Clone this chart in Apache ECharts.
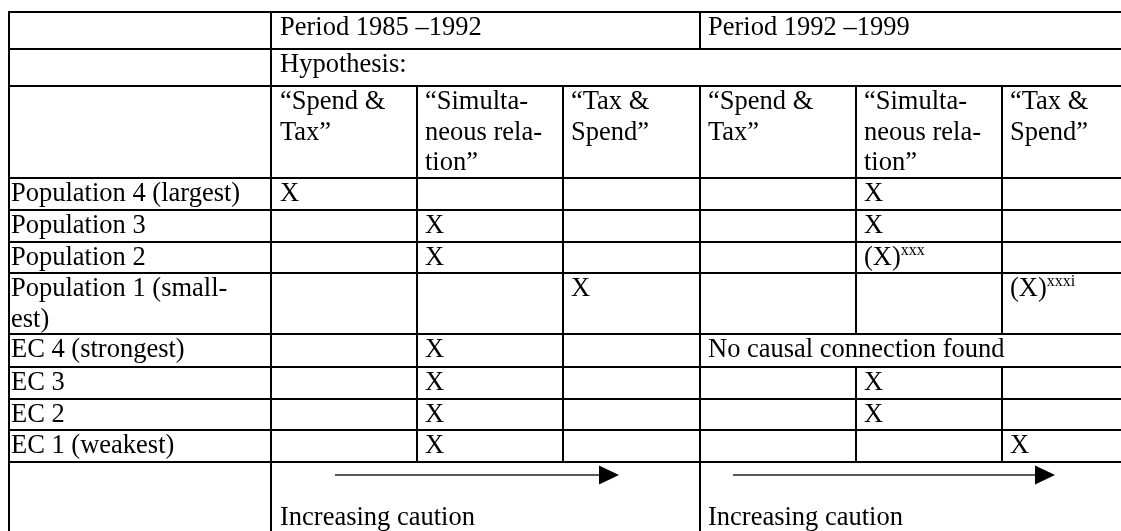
<!DOCTYPE html>
<html>
<head>
<meta charset="utf-8">
<script src="https://cdn.jsdelivr.net/npm/echarts@6/dist/echarts.min.js"></script>
<style>
html,body{margin:0;padding:0;background:#fff;}
#chart{width:1121px;height:531px;}
</style>
</head>
<body>
<div id="chart"></div>
<script>
// ---------- table content ----------
const periods = ['Period 1985 \u20131992', 'Period 1992 \u20131999'];
const hypothesisTitle = 'Hypothesis:';
const hypotheses = ['\u201cSpend &\nTax\u201d', '\u201cSimulta-\nneous rela-\ntion\u201d', '\u201cTax &\nSpend\u201d'];
const rowLabels = [
  'Population 4 (largest)',
  'Population 3',
  'Population 2',
  'Population 1 (small-\nest)',
  'EC 4 (strongest)',
  'EC 3',
  'EC 2',
  'EC 1 (weakest)'
];
const period1Marks = [
  ['X', '', ''],
  ['', 'X', ''],
  ['', 'X', ''],
  ['', '', 'X'],
  ['', 'X', ''],
  ['', 'X', ''],
  ['', 'X', ''],
  ['', 'X', '']
];
const period2Marks = [
  ['', 'X', ''],
  ['', 'X', ''],
  ['', '(X)', ''],
  ['', '', '(X)'],
  null,
  ['', 'X', ''],
  ['', 'X', ''],
  ['', '', 'X']
];
const period2Notes = ['', '', 'xxx', 'xxxi', '', '', '', ''];
const noCausalText = 'No causal connection found';
const cautionLabel = 'Increasing caution';

// ---------- layout (axis units = pixels) ----------
const L = {
  cols: [9, 271, 417, 563, 700, 856, 1002, 1135],
  rows: [12, 49, 86, 178, 210, 242, 273, 334, 367, 399, 430, 462, 545],
  padX: [2, 9, 8, 8, 8, 8, 8],
  textTop: 1,
  captionTop: 41,
  arrowDy: 13,
  arrows: [[335, 619], [733, 1055]],
  headLen: 20,
  headHalf: 9.5,
  fontSize: 26.5,
  lineHeight: 30.5,
  font: 'Liberation Serif'
};

// ---------- build cells ----------
const cells = [];
cells.push({c: [0, 1], r: [0, 1], text: ''});
cells.push({c: [1, 4], r: [0, 1], text: periods[0]});
cells.push({c: [4, 7], r: [0, 1], text: periods[1]});
cells.push({c: [0, 1], r: [1, 2], text: ''});
cells.push({c: [1, 7], r: [1, 2], text: hypothesisTitle});
cells.push({c: [0, 1], r: [2, 3], text: ''});
for (let p = 0; p < 2; p++) {
  hypotheses.forEach((h, j) => {
    const c = 1 + 3 * p + j;
    cells.push({c: [c, c + 1], r: [2, 3], text: h});
  });
}
rowLabels.forEach((lab, i) => {
  const r = 3 + i;
  cells.push({c: [0, 1], r: [r, r + 1], text: lab});
  period1Marks[i].forEach((m, j) => {
    cells.push({c: [1 + j, 2 + j], r: [r, r + 1], text: m});
  });
  if (period2Marks[i] === null) {
    cells.push({c: [4, 7], r: [r, r + 1], text: noCausalText});
  } else {
    period2Marks[i].forEach((m, j) => {
      cells.push({c: [4 + j, 5 + j], r: [r, r + 1], text: m, note: m ? period2Notes[i] : ''});
    });
  }
});
cells.push({c: [0, 1], r: [11, 12], text: ''});
cells.push({c: [1, 4], r: [11, 12], text: cautionLabel, arrow: 0});
cells.push({c: [4, 7], r: [11, 12], text: cautionLabel, arrow: 1});

const data = cells.map(cl => [cl.c[0], cl.c[1], cl.r[0], cl.r[1]]);

function renderItem(params, api) {
  const cl = cells[params.dataIndex];
  const p0 = api.coord([L.cols[api.value(0)], L.rows[api.value(2)]]);
  const p1 = api.coord([L.cols[api.value(1)], L.rows[api.value(3)]]);
  const children = [{
    type: 'rect',
    shape: {x: p0[0], y: p0[1], width: p1[0] - p0[0], height: p1[1] - p0[1]},
    style: {fill: 'none', stroke: '#000', lineWidth: 2}
  }];
  if (cl.text) {
    const tx = p0[0] + L.padX[cl.c[0]];
    const ty = p0[1] + (cl.arrow != null ? L.captionTop : L.textTop);
    const style = {
      x: tx, y: ty, fill: '#000', align: 'left', verticalAlign: 'top',
      fontSize: L.fontSize, fontFamily: L.font, lineHeight: L.lineHeight
    };
    if (cl.note) {
      style.text = '{m|' + cl.text + '}{s|' + cl.note + '}';
      style.rich = {
        m: {fontSize: L.fontSize, fontFamily: L.font, lineHeight: L.lineHeight, fill: '#000'},
        s: {fontSize: 16, fontFamily: L.font, lineHeight: 16, verticalAlign: 'top', fill: '#000'}
      };
    } else {
      style.text = cl.text;
    }
    children.push({type: 'text', style: style});
  }
  if (cl.arrow != null) {
    const a = L.arrows[cl.arrow];
    const yv = L.rows[api.value(2)] + L.arrowDy;
    const s = api.coord([a[0], yv]);
    const t = api.coord([a[1], yv]);
    const b = t[0] - L.headLen;
    children.push({
      type: 'line',
      shape: {x1: s[0], y1: s[1], x2: b, y2: t[1]},
      style: {stroke: '#222', lineWidth: 1.5}
    });
    children.push({
      type: 'polygon',
      shape: {points: [[b, t[1] - L.headHalf], [t[0], t[1]], [b, t[1] + L.headHalf]]},
      style: {fill: '#000'}
    });
  }
  return {type: 'group', children: children};
}

const chart = echarts.init(document.getElementById('chart'), null, {renderer: 'canvas'});
chart.setOption({
  animation: false,
  backgroundColor: '#fff',
  grid: {left: 0, right: 0, top: 0, bottom: 0},
  xAxis: {type: 'value', min: 0, max: 1121, show: false},
  yAxis: {type: 'value', min: 0, max: 531, inverse: true, show: false},
  series: [{
    type: 'custom',
    renderItem: renderItem,
    data: data,
    clip: false,
    silent: true
  }]
});
</script>
</body>
</html>
